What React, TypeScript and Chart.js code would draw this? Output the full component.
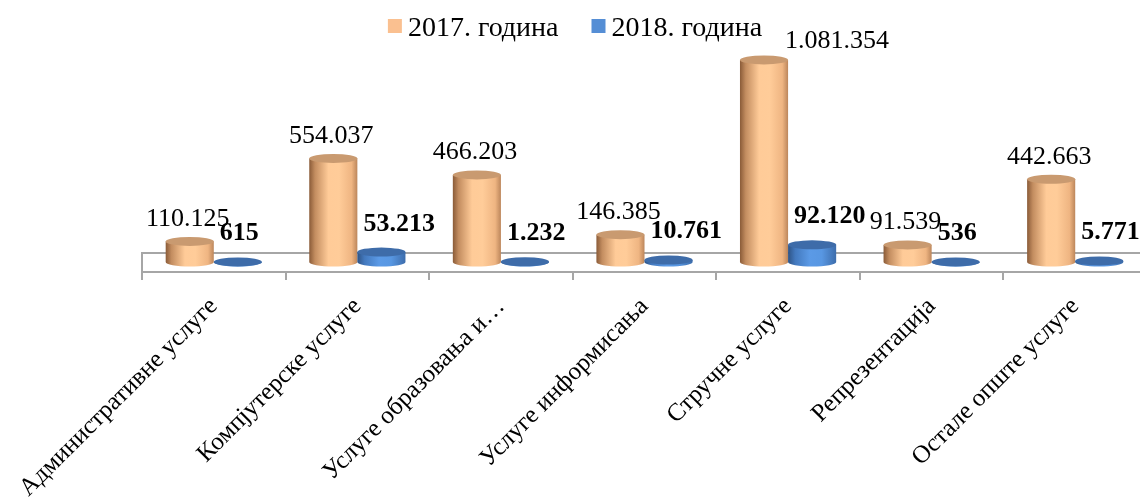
import React, { useEffect, useRef } from "react";
import { Chart, registerables } from "chart.js";

Chart.register(...registerables);

const categories = [
  "Административне услуге",
  "Компјутерске услуге",
  "Услуге образовања и…",
  "Услуге информисања",
  "Стручне услуге",
  "Репрезентација",
  "Остале опште услуге",
];
const seriesNames = ["2017. година", "2018. година"];
const values2017 = [110125, 554037, 466203, 146385, 1081354, 91539, 442663];
const values2018 = [615, 53213, 1232, 10761, 92120, 536, 5771];
const yMax = 1295000;

const FONT = "'Liberation Serif', 'Times New Roman', serif";
const DEPTH = 10;
const RY = 4.5;

const styles = [
  {
    legend: "#FAC090",
    top: "#C99A70",
    stops: [
      [0, "#8A5B38"],
      [0.12, "#C38D60"],
      [0.4, "#FFCB98"],
      [0.62, "#FFCC99"],
      [0.88, "#EFB582"],
      [1, "#BC865B"],
    ],
    bold: false,
  },
  {
    legend: "#558ED5",
    top: "#3E6CA9",
    stops: [
      [0, "#2E5385"],
      [0.15, "#4379BE"],
      [0.45, "#5B9AE6"],
      [0.7, "#5897E2"],
      [1, "#3D6DAC"],
    ],
    bold: true,
  },
];

function fmt(n: number): string {
  return String(n).replace(/\B(?=(\d{3})+(?!\d))/g, ".");
}

const LEGEND_FONT = "28px " + FONT;
const LEGEND_BOX = 14;
const LEGEND_TEXT_GAP = 6;
const LEGEND_ITEM_GAP = 33;
const LEGEND_BASELINE = 36;

function legendLayout(chart: any) {
  const ctx = chart.ctx;
  ctx.save();
  ctx.font = LEGEND_FONT;
  const widths = chart.data.datasets.map((d: any) => ctx.measureText(d.label).width);
  ctx.restore();
  let total = 0;
  widths.forEach((w: number, i: number) => {
    total += LEGEND_BOX + LEGEND_TEXT_GAP + w + (i > 0 ? LEGEND_ITEM_GAP : 0);
  });
  let x = chart.width / 2 - total / 2;
  const items = widths.map((w: number) => {
    const it = { x, textX: x + LEGEND_BOX + LEGEND_TEXT_GAP, w };
    x += LEGEND_BOX + LEGEND_TEXT_GAP + w + LEGEND_ITEM_GAP;
    return it;
  });
  const left = items[0].x;
  const right = items[items.length - 1].textX + widths[widths.length - 1];
  return { items, left, right, top: LEGEND_BASELINE - 20, bottom: LEGEND_BASELINE + 6 };
}

const cylinderPlugin = {
  id: "cylinders",
  beforeDatasetsDraw(chart: any) {
    const { ctx, chartArea } = chart;
    const b = chartArea.bottom;
    ctx.save();
    ctx.strokeStyle = "#A6A6A6";
    ctx.lineWidth = 2;
    ctx.beginPath();
    ctx.moveTo(chartArea.left, b + 8);
    ctx.lineTo(chartArea.left, b - 19);
    ctx.lineTo(chartArea.right + 30, b - 19);
    ctx.stroke();
    ctx.restore();
  },
  beforeDatasetDraw() {
    return false;
  },
  afterDatasetsDraw(chart: any) {
    const { ctx } = chart;
    const lg = legendLayout(chart);
    const labels: any[] = [];
    chart.data.datasets.forEach((ds: any, di: number) => {
      const meta = chart.getDatasetMeta(di);
      const st = styles[di];
      meta.data.forEach((el: any, i: number) => {
        const { x, y, base, width } = el.getProps(["x", "y", "base", "width"], true);
        const rx = width / 2;
        const left = x - rx;
        const right = x + rx;
        const yb = base - DEPTH;
        const yt = Math.min(y - DEPTH, yb);
        const g = ctx.createLinearGradient(left, 0, right, 0);
        st.stops.forEach((s: any) => g.addColorStop(s[0], s[1]));
        ctx.save();
        ctx.fillStyle = g;
        ctx.beginPath();
        ctx.moveTo(left, yt);
        ctx.lineTo(left, yb);
        ctx.ellipse(x, yb, rx, RY, 0, Math.PI, 0, true);
        ctx.lineTo(right, yt);
        ctx.closePath();
        ctx.fill();
        ctx.fillStyle = st.top;
        ctx.beginPath();
        ctx.ellipse(x, yt, rx, RY, 0, 0, Math.PI * 2);
        ctx.fill();
        ctx.restore();
        labels.push({ di, x, top: yt - RY, v: ds.data[i] });
      });
    });
    ctx.save();
    ctx.fillStyle = "#000000";
    ctx.textBaseline = "alphabetic";
    ctx.textAlign = "left";
    labels.forEach((l) => {
      const st = styles[l.di];
      ctx.font = (st.bold ? "bold " : "") + "26px " + FONT;
      const txt = fmt(l.v);
      const w = ctx.measureText(txt).width;
      if (l.di === 0) {
        let baseline = l.top - 11;
        let lx = l.x - 2 - w / 2;
        if (lx < lg.right && lx + w > lg.left && baseline > lg.top && baseline - 19 < lg.bottom) {
          lx = lg.right + 23;
          baseline = l.top - 7;
        }
        ctx.fillText(txt, lx, baseline);
      } else {
        ctx.fillText(txt, l.x - 18, l.top - 17);
      }
    });
    ctx.restore();
  },
  afterDraw(chart: any) {
    const { ctx } = chart;
    const lg = legendLayout(chart);
    ctx.save();
    ctx.font = LEGEND_FONT;
    ctx.textAlign = "left";
    ctx.textBaseline = "alphabetic";
    chart.data.datasets.forEach((ds: any, i: number) => {
      const it = lg.items[i];
      ctx.fillStyle = styles[i].legend;
      ctx.fillRect(it.x, LEGEND_BASELINE - 17, LEGEND_BOX, LEGEND_BOX);
      ctx.fillStyle = "#000000";
      ctx.fillText(ds.label, it.textX, LEGEND_BASELINE);
    });
    ctx.restore();
  },
};

export default function App() {
  const ref = useRef<HTMLCanvasElement | null>(null);
  useEffect(() => {
    if (!ref.current) return;
    Chart.defaults.font.family = FONT;
    const chart = new Chart(ref.current, {
      type: "bar",
      data: {
        labels: categories,
        datasets: [
          {
            label: seriesNames[0],
            data: values2017,
            backgroundColor: styles[0].legend,
            borderWidth: 0,
          },
          {
            label: seriesNames[1],
            data: values2018,
            backgroundColor: styles[1].legend,
            borderWidth: 0,
          },
        ],
      },
      options: {
        responsive: false,
        animation: false,
        devicePixelRatio: 1,
        layout: { padding: { left: 142, right: 3, top: 30, bottom: 0 } },
        datasets: { bar: { categoryPercentage: 0.67, barPercentage: 1 } },
        plugins: {
          legend: { display: false },
          tooltip: { enabled: false },
        },
        scales: {
          x: {
            afterFit: (scale: any) => {
              scale.height = 232;
            },
            grid: {
              display: true,
              drawOnChartArea: false,
              drawTicks: true,
              tickLength: 8,
              color: "#A6A6A6",
              lineWidth: 2,
            },
            border: { display: true, color: "#A6A6A6", width: 2 },
            ticks: {
              color: "#000000",
              font: { size: 25, family: FONT },
              minRotation: 45,
              maxRotation: 45,
              autoSkip: false,
              padding: 12,
            },
          },
          y: { display: false, min: 0, max: yMax },
        },
      },
      plugins: [cylinderPlugin],
    });
    return () => chart.destroy();
  }, []);
  return (
    <div
      style={{
        position: "fixed",
        left: 0,
        top: 0,
        width: 1140,
        height: 504,
        overflow: "hidden",
        background: "#ffffff",
      }}
    >
      <canvas ref={ref} width={1150} height={504} style={{ display: "block" }} />
    </div>
  );
}
